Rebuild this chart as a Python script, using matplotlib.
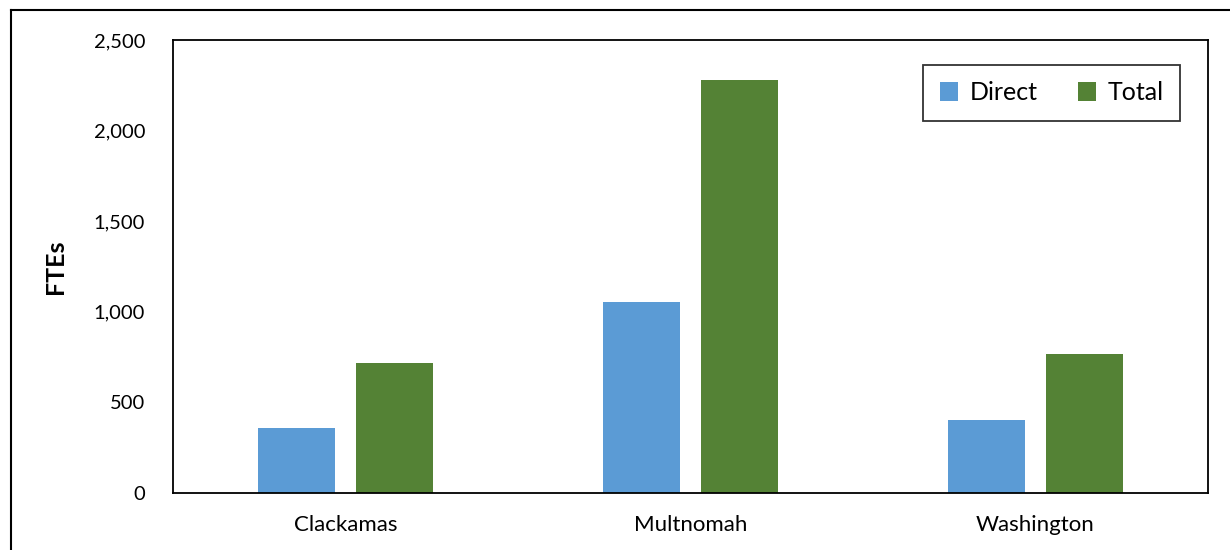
import numpy as np
import matplotlib.pyplot as plt
from matplotlib.lines import Line2D

counties = ["Clackamas", "Multnomah", "Washington"]
direct = [360, 1055, 405]
total = [718, 2278, 768]
yticks = [0, 500, 1000, 1500, 2000, 2500]

plt.rcParams['font.family'] = ['Lato', 'DejaVu Sans']

W, H = 1230, 550
fig = plt.figure(figsize=(W / 100, H / 100), dpi=100)
ax = fig.add_axes([173 / W, 1 - 493 / H, (1208 - 173) / W, (493 - 40) / H])

x = np.arange(len(counties))
bw = 0.223
ax.bar(x - 0.143, direct, bw, color="#5b9bd5", label="Direct")
ax.bar(x + 0.143, total, bw, color="#548235", label="Total")

ax.set_xlim(-0.5, 2.5)
ax.set_ylim(0, 2500)
ax.set_yticks(yticks)
ax.set_yticklabels([f"{v:,}" for v in yticks], fontsize=14.5)
ax.set_xticks(x)
ax.set_xticklabels(counties, fontsize=16)
ax.tick_params(length=0)
ax.tick_params(axis='y', pad=20)
ax.tick_params(axis='x', pad=16)
for s in ax.spines.values():
    s.set_linewidth(1.3)
    s.set_color("black")
ax.set_ylabel("FTEs", fontsize=18, fontweight="bold")
ax.yaxis.set_label_coords(-0.102, 0.5)

leg = ax.legend(loc="upper right", bbox_to_anchor=(1180 / W, 1 - 65 / H),
                bbox_transform=fig.transFigure, ncol=2, fontsize=18,
                frameon=True, fancybox=False, handlelength=0.75, handleheight=0.75,
                columnspacing=1.6, handletextpad=0.45, borderpad=0.65,
                borderaxespad=0)
leg.get_frame().set_edgecolor("black")
leg.get_frame().set_linewidth(1.3)

# outer chart frame (top and left edges visible)
fig.add_artist(Line2D([11 / W, 1.0], [1 - 10 / H, 1 - 10 / H], color="black", lw=1.5))
fig.add_artist(Line2D([11 / W, 11 / W], [0, 1 - 10 / H], color="black", lw=1.5))

fig.savefig("out.png", dpi=100)
